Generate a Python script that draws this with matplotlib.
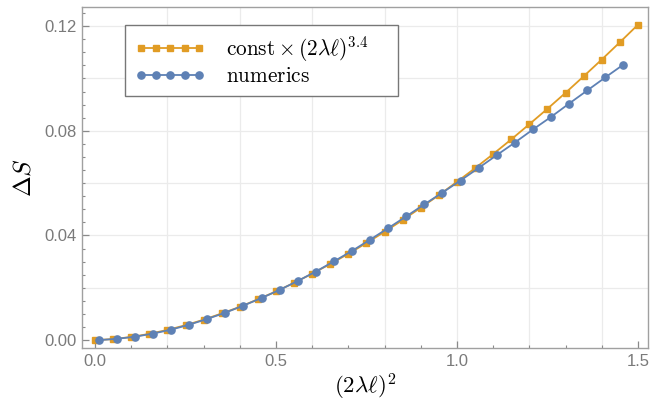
import matplotlib
matplotlib.use('Agg')
import matplotlib.pyplot as plt

plt.rcParams['mathtext.fontset'] = 'cm'

# analytic fit
x_fit = [0.00, 0.05, 0.10, 0.15, 0.20, 0.25, 0.30, 0.35, 0.40, 0.45,
         0.50, 0.55, 0.60, 0.65, 0.70, 0.75, 0.80, 0.85, 0.90, 0.95,
         1.00, 1.05, 1.10, 1.15, 1.20, 1.25, 1.30, 1.35, 1.40, 1.45, 1.50]
y_fit = [0.0000, 0.0004, 0.0012, 0.0024, 0.0039, 0.0057, 0.0078, 0.0102, 0.0127, 0.0156,
         0.0186, 0.0219, 0.0254, 0.0291, 0.0330, 0.0371, 0.0414, 0.0459, 0.0506, 0.0554,
         0.0605, 0.0657, 0.0711, 0.0767, 0.0825, 0.0884, 0.0945, 0.1008, 0.1072, 0.1138, 0.1205]

# numerical data, blue curve
x_num = [0.01, 0.06, 0.11, 0.16, 0.21, 0.26, 0.31, 0.36, 0.41, 0.46,
         0.51, 0.56, 0.61, 0.66, 0.71, 0.76, 0.81, 0.86, 0.91, 0.96,
         1.01, 1.06, 1.11, 1.16, 1.21, 1.26, 1.31, 1.36, 1.41, 1.46]
y_num = [0.0000, 0.0005, 0.0013, 0.0025, 0.0040, 0.0059, 0.0081, 0.0105, 0.0132, 0.0161,
         0.0192, 0.0226, 0.0262, 0.0301, 0.0341, 0.0384, 0.0428, 0.0473, 0.0519, 0.0564,
         0.0610, 0.0658, 0.0707, 0.0755, 0.0805, 0.0853, 0.0904, 0.0954, 0.1004, 0.1053]

x_ticks = [0.0, 0.5, 1.0, 1.5]
y_ticks = [0.00, 0.04, 0.08, 0.12]
x_grid = [0.2, 0.4, 0.6, 0.8, 1.0, 1.2, 1.4]
y_grid = [0.02, 0.04, 0.06, 0.08, 0.10, 0.12]

orange = '#E19C24'
blue = '#5E81B5'
gray = '#8a8a8a'

fig = plt.figure(figsize=(6.52, 4.07), dpi=100)
ax = fig.add_axes([0.1258, 0.145, 0.8681, 0.8378])

for g in x_grid:
    ax.axvline(g, color='#ebebeb', lw=0.9, zorder=0)
for g in y_grid:
    ax.axhline(g, color='#ebebeb', lw=0.9, zorder=0)

ax.plot(x_fit, y_fit, color=orange, lw=1.3, marker='s', ms=3.8,
        label=r'$\mathrm{const}\times(2\lambda\ell)^{3.4}$', zorder=2)
ax.plot(x_num, y_num, color=blue, lw=1.3, marker='o', ms=5.2,
        label=r'$\mathrm{numerics}$', zorder=3)

ax.set_xlim(-0.036, 1.528)
ax.set_ylim(-0.003, 0.1273)

ax.set_xticks(x_ticks)
ax.set_xticklabels(['0.0', '0.5', '1.0', '1.5'])
ax.set_yticks(y_ticks)
ax.set_yticklabels(['0.00', '0.04', '0.08', '0.12'])
ax.set_xticks([i * 0.1 for i in range(16)], minor=True)
ax.set_yticks([i * 0.005 for i in range(26)], minor=True)

ax.tick_params(which='major', direction='in', length=5, width=0.9, color=gray,
               labelcolor='#7a7a7a', labelsize=12, pad=4)
ax.tick_params(which='minor', direction='in', length=2.5, width=0.8, color=gray)
for lab in ax.get_xticklabels() + ax.get_yticklabels():
    lab.set_family('Liberation Sans')

for s in ax.spines.values():
    s.set_color('#a0a0a0')
    s.set_linewidth(1.0)

ax.set_xlabel(r'$(2\lambda\ell)^2$', fontsize=16.5, labelpad=2)
ax.set_ylabel(r'$\Delta S$', fontsize=18, labelpad=6)

leg = ax.legend(loc='upper left', bbox_to_anchor=(0.076, 0.5, 0.482, 0.447),
                mode='expand', borderaxespad=0,
                fontsize=15.3, numpoints=5, handlelength=3.35, handletextpad=0.95,
                fancybox=False, framealpha=1, edgecolor='#777777',
                borderpad=0.45, labelspacing=0.1)
leg.get_frame().set_linewidth(1.0)

fig.savefig('out.png', dpi=100)
